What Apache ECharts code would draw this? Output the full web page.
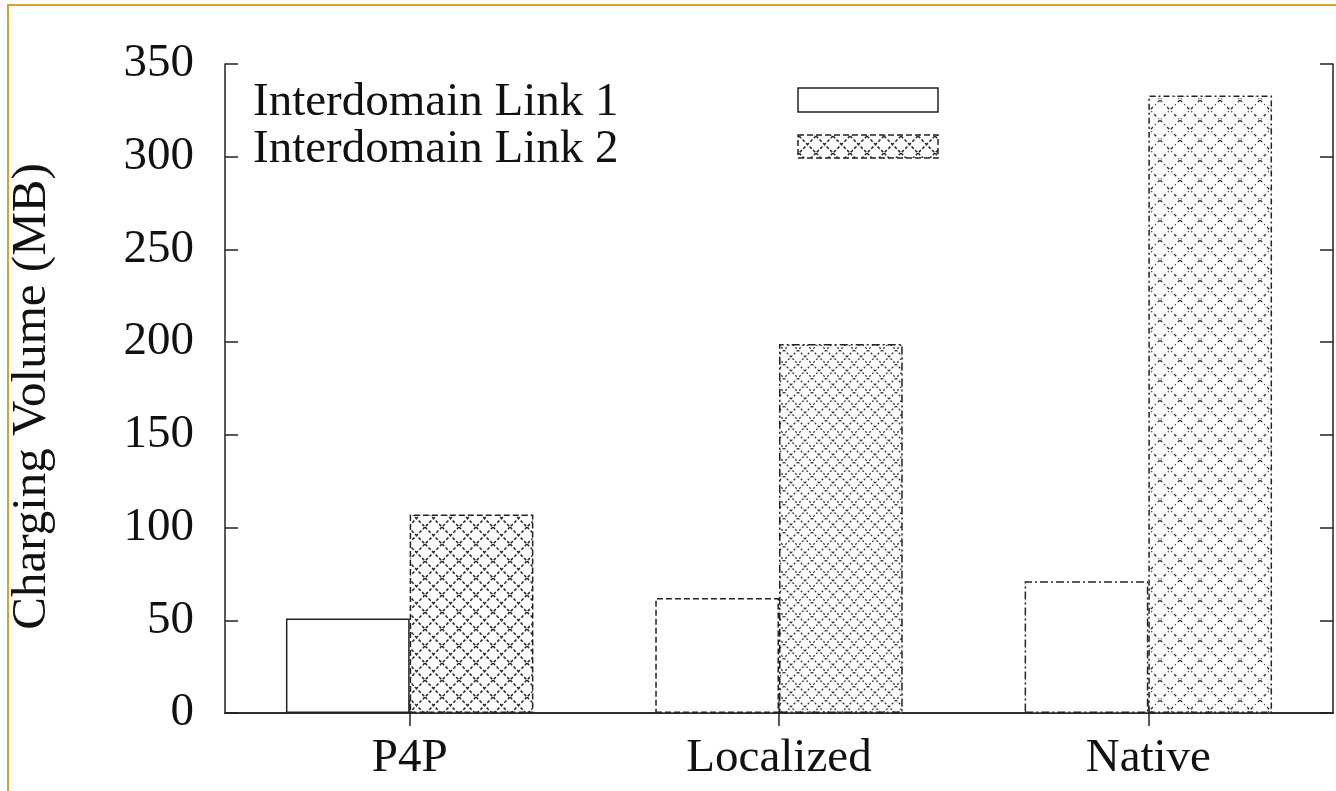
<!DOCTYPE html>
<html>
<head>
<meta charset="utf-8">
<script src="https://cdn.jsdelivr.net/npm/echarts@6/dist/echarts.min.js"></script>
<style>
  html, body { margin: 0; padding: 0; background: #fff; }
  #chart { width: 1336px; height: 791px; }
</style>
</head>
<body>
<div id="chart"></div>
<script>
// Charging volume per scheme on the two interdomain links
const categories = ['P4P', 'Localized', 'Native'];
const link1 = [51, 62, 71];
const link2 = [107, 199, 333];
const seriesNames = ['Interdomain Link 1', 'Interdomain Link 2'];
const yTicks = { min: 0, max: 350, interval: 50 };

const FONT = "'Liberation Serif', 'Times New Roman', serif";
const INK = '#222';

// Cross-hatch (diamond lattice) fill in the style of gnuplot patterns
function hatch(size, dash, color, width) {
  const c = document.createElement('canvas');
  c.width = size; c.height = size;
  const g = c.getContext('2d');
  g.fillStyle = '#fff';
  g.fillRect(0, 0, size, size);
  g.strokeStyle = color;
  g.lineWidth = width;
  g.setLineDash(dash);
  g.beginPath();
  g.moveTo(0, 0); g.lineTo(size, size);
  g.moveTo(size, 0); g.lineTo(0, size);
  g.stroke();
  return { image: c, repeat: 'repeat' };
}
const hatchA = hatch(17, [3, 2], '#262626', 1.5);
const hatchB = hatch(14, [2, 2], '#3a3a3a', 1.3);
const hatchC = hatch(20, [3, 3, 1, 3], '#333', 1.4);

// Outline styles used per bar
const border1 = ['solid', [6, 3], [8, 3, 2, 3]];
const border2 = [[6, 3], [8, 3, 2, 3], [6, 3, 2, 3]];
const fill2 = [hatchA, hatchB, hatchC];

const chart = echarts.init(document.getElementById('chart'), null, { renderer: 'canvas' });

const axisLine = { show: true, lineStyle: { color: INK, width: 1.5 } };
const tickStyle = { show: true, inside: true, length: 13, lineStyle: { color: INK, width: 1.5 } };

chart.setOption({
  backgroundColor: '#fff',
  animation: false,
  grid: { left: 225, right: 3, top: 64, bottom: 78, containLabel: false, outerBoundsMode: 'none' },
  xAxis: [
    {
      type: 'category', data: categories, position: 'bottom',
      axisLine: axisLine,
      axisTick: Object.assign({ alignWithLabel: true }, tickStyle),
      axisLabel: { color: '#111', fontFamily: FONT, fontSize: 47, margin: 22 },
      splitLine: { show: false }
    },
    {
      type: 'category', data: categories, position: 'top',
      axisLine: axisLine,
      axisTick: Object.assign({ alignWithLabel: true }, tickStyle),
      axisLabel: { show: false },
      splitLine: { show: false }
    }
  ],
  yAxis: [
    {
      type: 'value', position: 'left',
      min: yTicks.min, max: yTicks.max, interval: yTicks.interval,
      axisLine: axisLine, axisTick: tickStyle,
      axisLabel: { color: '#111', fontFamily: FONT, fontSize: 47, margin: 31 },
      splitLine: { show: false },
      name: 'Charging Volume (MB)', nameLocation: 'middle', nameGap: 168,
      nameTextStyle: { color: '#111', fontFamily: FONT, fontSize: 49, padding: [0, 16, 0, 0] }
    },
    {
      type: 'value', position: 'right',
      min: yTicks.min, max: yTicks.max, interval: yTicks.interval,
      axisLine: axisLine, axisTick: tickStyle,
      axisLabel: { show: false },
      splitLine: { show: false }
    }
  ],
  series: [
    {
      name: seriesNames[0], type: 'bar', barGap: '0%', barCategoryGap: '33%',
      data: link1.map((v, i) => ({
        value: v,
        itemStyle: { color: '#fff', borderColor: INK, borderWidth: 1.5, borderType: border1[i] }
      }))
    },
    {
      name: seriesNames[1], type: 'bar', barGap: '0%', barCategoryGap: '33%',
      data: link2.map((v, i) => ({
        value: v,
        itemStyle: { color: fill2[i], borderColor: INK, borderWidth: 1.5, borderType: border2[i] }
      }))
    }
  ],
  graphic: [
    // page frame
    { type: 'rect', shape: { x: 8, y: 5, width: 1400, height: 900 }, style: { fill: null, stroke: '#D6A32A', lineWidth: 2 }, silent: true, z: 100 },
    // key
    { type: 'text', left: 253, top: 79, style: { text: seriesNames[0], font: '47px ' + FONT, fill: '#111' } },
    { type: 'text', left: 253, top: 126, style: { text: seriesNames[1], font: '47px ' + FONT, fill: '#111' } },
    { type: 'rect', shape: { x: 798, y: 88, width: 140, height: 24 }, style: { fill: '#fff', stroke: INK, lineWidth: 1.5 } },
    { type: 'rect', shape: { x: 798, y: 135, width: 140, height: 23 }, style: { fill: hatchA, stroke: INK, lineWidth: 1.5, lineDash: [6, 3] } }
  ]
});
</script>
</body>
</html>
